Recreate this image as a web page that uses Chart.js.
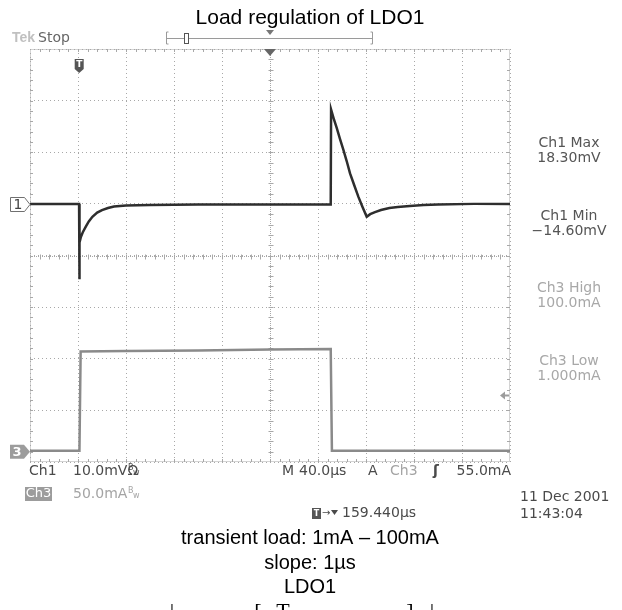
<!DOCTYPE html>
<html>
<head>
<meta charset="utf-8">
<script src="https://cdn.jsdelivr.net/npm/chart.js@4.4.1/dist/chart.umd.min.js"></script>
<style>
  html, body { margin: 0; padding: 0; background: #fff; }
  canvas { display: block; }
</style>
</head>
<body>
<canvas id="scopeChart" width="622" height="610"></canvas>
<script>
// Ch1: LDO出力電圧 (mV)，時間は µs (画面左端 = -40µs, 1div = 40µs)
const ch1Time = [-40, 0.9, 1.1, 1.4, 2.4, 4, 6.5, 9, 12, 16, 20, 25, 30, 40, 60, 100, 150,
                 210.6, 210.9, 213.5, 215.6, 218.3, 221.1, 223.9, 226.7, 230.2, 233.6, 237.1, 240.6,
                 243.5, 247.5, 252.5, 259.5, 266.5, 276.5, 288, 300, 330, 360];
const ch1Volt = [0, 0, -14.6, -7.5, -6.4, -5.5, -4.4, -3.4, -2.5, -1.7, -1.2, -0.8, -0.5, -0.3, -0.2, -0.1, -0.1,
                 -0.1, 18.3, 16.2, 14.7, 12.6, 10.5, 8.3, 5.9, 3.6, 1.4, -0.6, -2.5,
                 -2.0, -1.6, -1.2, -0.8, -0.6, -0.4, -0.2, -0.1, 0, 0];

// Ch3: 負荷電流 (mA)
const ch3Time = [-40, 1.2, 2.2, 40, 100, 160, 210.6, 211.6, 260, 360];
const ch3Curr = [1, 1, 97, 97.5, 98, 99, 99.5, 1, 1, 1];

// トリガ位置とトリガレベル
const trigTime = 1;
const trigLevel = 55;

// 測定値の表示
const measureLabels = ['Ch1 Max', 'Ch1 Min', 'Ch3 High', 'Ch3 Low'];
const measureValues = ['18.30mV', '\u221214.60mV', '100.0mA', '1.000mA'];
const captionLines = ['transient load: 1mA \u2013 100mA', 'slope: 1\u00b5s', 'LDO1'];

const SCOPE_FONT = '"DejaVu Sans", sans-serif';
const dark = '#4a4a4a';
const light = '#a4a4a4';

function text(ctx, s, x, y, color, font, align) {
    ctx.fillStyle = color;
    ctx.font = font;
    ctx.textAlign = align || 'left';
    ctx.textBaseline = 'middle';
    ctx.fillText(s, x, y);
}

/**
 * 目盛りの細かい刻み（枠と中央十字線）を描く
 */
const graticule = {
    id: 'graticule',
    beforeDatasetsDraw(chart) {
        const { ctx, chartArea: a } = chart;
        const dx = (a.right - a.left) / 50;
        const dy = (a.bottom - a.top) / 40;
        const cx = Math.round((a.left + a.right) / 2) + 0.5;
        const cy = Math.round((a.top + a.bottom) / 2) + 0.5;
        ctx.save();
        ctx.strokeStyle = '#a8a8a8';
        ctx.lineWidth = 1;
        ctx.beginPath();
        for (let i = 1; i < 50; i++) {
            const x = Math.round(a.left + i * dx) + 0.5;
            ctx.moveTo(x, a.top); ctx.lineTo(x, a.top + 3);
            ctx.moveTo(x, a.bottom); ctx.lineTo(x, a.bottom - 3);
            ctx.moveTo(x, cy - 2); ctx.lineTo(x, cy + 3);
        }
        for (let j = 1; j < 40; j++) {
            const y = Math.round(a.top + j * dy) + 0.5;
            ctx.moveTo(a.left, y); ctx.lineTo(a.left + 3, y);
            ctx.moveTo(a.right, y); ctx.lineTo(a.right - 3, y);
            ctx.moveTo(cx - 2, y); ctx.lineTo(cx + 3, y);
        }
        ctx.stroke();
        // 枠と中央線は細かい点線
        ctx.setLineDash([1, 1]);
        ctx.beginPath();
        ctx.moveTo(a.left + 0.5, a.top + 0.5); ctx.lineTo(a.right - 0.5, a.top + 0.5);
        ctx.lineTo(a.right - 0.5, a.bottom - 0.5); ctx.lineTo(a.left + 0.5, a.bottom - 0.5);
        ctx.closePath();
        ctx.moveTo(cx, a.top); ctx.lineTo(cx, a.bottom);
        ctx.moveTo(a.left, cy); ctx.lineTo(a.right, cy);
        ctx.stroke();
        ctx.restore();
    }
};

/**
 * チャンネルマーカーと画面上の文字情報を描く
 */
const scopeText = {
    id: 'scopeText',
    afterDraw(chart) {
        const { ctx, chartArea: a, scales } = chart;
        const f14 = '14px ' + SCOPE_FONT;
        ctx.save();

        // タイトル
        text(ctx, 'Load regulation of LDO1', 310, 18, '#000', '21px "Liberation Sans", Arial, sans-serif', 'center');

        // Tek Stop
        text(ctx, 'Tek', 12, 38, '#c0c0c0', 'bold 14px "Liberation Sans", Arial, sans-serif');
        text(ctx, 'Stop', 38, 38, '#666', f14);

        // 水平位置バー
        ctx.strokeStyle = '#9a9a9a';
        ctx.lineWidth = 1;
        ctx.beginPath();
        ctx.moveTo(168.5, 32); ctx.lineTo(166.5, 32); ctx.lineTo(166.5, 44); ctx.lineTo(168.5, 44);
        ctx.moveTo(370.5, 32); ctx.lineTo(372.5, 32); ctx.lineTo(372.5, 44); ctx.lineTo(370.5, 44);
        ctx.moveTo(167, 38.5); ctx.lineTo(372, 38.5);
        ctx.stroke();
        ctx.fillStyle = '#fff';
        ctx.strokeStyle = '#555';
        ctx.fillRect(184, 33, 5, 11);
        ctx.strokeRect(184.5, 33.5, 4, 10);
        ctx.fillStyle = '#777';
        ctx.beginPath();
        ctx.moveTo(266, 30); ctx.lineTo(274, 30); ctx.lineTo(270, 35); ctx.closePath();
        ctx.fill();

        // 中央の位置マーカー
        const cx = (a.left + a.right) / 2;
        ctx.fillStyle = '#666';
        ctx.beginPath();
        ctx.moveTo(cx - 6, a.top); ctx.lineTo(cx + 6, a.top); ctx.lineTo(cx, a.top + 7); ctx.closePath();
        ctx.fill();

        // トリガマーカー T
        const tx = scales.x.getPixelForValue(trigTime);
        ctx.fillStyle = '#555';
        ctx.beginPath();
        ctx.moveTo(tx - 4.5, 59); ctx.lineTo(tx + 4.5, 59); ctx.lineTo(tx + 4.5, 69);
        ctx.lineTo(tx, 73); ctx.lineTo(tx - 4.5, 69); ctx.closePath();
        ctx.fill();
        text(ctx, 'T', tx, 65, '#fff', 'bold 9px ' + SCOPE_FONT, 'center');

        // Ch1 マーカー
        const y1 = Math.round(scales.y.getPixelForValue(0)) + 0.5;
        ctx.fillStyle = '#fff';
        ctx.strokeStyle = '#707070';
        ctx.beginPath();
        ctx.moveTo(10.5, y1 - 7); ctx.lineTo(24.5, y1 - 7); ctx.lineTo(30, y1);
        ctx.lineTo(24.5, y1 + 7); ctx.lineTo(10.5, y1 + 7); ctx.closePath();
        ctx.fill(); ctx.stroke();
        text(ctx, '1', 18, y1 + 1, '#444', f14, 'center');

        // Ch3 マーカー
        const y3 = scales.y3.getPixelForValue(0);
        ctx.fillStyle = '#9c9c9c';
        ctx.beginPath();
        ctx.moveTo(10, y3 - 7); ctx.lineTo(24, y3 - 7); ctx.lineTo(30, y3);
        ctx.lineTo(24, y3 + 7); ctx.lineTo(10, y3 + 7); ctx.closePath();
        ctx.fill();
        text(ctx, '3', 17, y3 + 1, '#fff', 'bold 13px ' + SCOPE_FONT, 'center');

        // トリガレベル矢印
        const yl = Math.round(scales.y3.getPixelForValue(trigLevel)) + 0.5;
        ctx.fillStyle = '#9c9c9c';
        ctx.strokeStyle = '#9c9c9c';
        ctx.lineWidth = 2;
        ctx.beginPath();
        ctx.moveTo(a.right - 10, yl); ctx.lineTo(a.right - 5, yl - 4); ctx.lineTo(a.right - 5, yl + 4); ctx.closePath();
        ctx.fill();
        ctx.beginPath();
        ctx.moveTo(a.right - 6, yl); ctx.lineTo(a.right - 1, yl);
        ctx.stroke();
        ctx.lineWidth = 1;

        // 右側の測定値
        const mx = 569;
        const my = [143, 216, 288, 361];
        measureLabels.forEach((lab, i) => {
            const c = i < 2 ? '#555' : '#a8a8a8';
            text(ctx, lab, mx, my[i], c, f14, 'center');
            text(ctx, measureValues[i], mx, my[i] + 15, c, f14, 'center');
        });

        // 下部の設定表示
        const r1 = 471, r2 = 494;
        text(ctx, 'Ch1', 29, r1, dark, f14);
        text(ctx, '10.0mV\u03a9', 73, r1, dark, f14);
        text(ctx, 'B', 128, r1 - 3, dark, '8px ' + SCOPE_FONT);
        text(ctx, 'w', 133, r1 + 2, dark, '8px ' + SCOPE_FONT);
        text(ctx, 'M', 282, r1, dark, f14);
        text(ctx, '40.0\u00b5s', 299, r1, dark, f14);
        text(ctx, 'A', 368, r1, dark, f14);
        text(ctx, 'Ch3', 390, r1, light, f14);
        text(ctx, '\u0283', 433, r1, dark, 'bold 14px ' + SCOPE_FONT);
        text(ctx, '55.0mA', 511, r1, dark, f14, 'right');

        ctx.fillStyle = '#9c9c9c';
        ctx.fillRect(25, r2 - 7, 27, 14);
        text(ctx, 'Ch3', 38.5, r2, '#fff', '13px ' + SCOPE_FONT, 'center');
        text(ctx, '50.0mA', 73, r2, light, f14);
        text(ctx, 'B', 128, r2 - 3, light, '8px ' + SCOPE_FONT);
        text(ctx, 'w', 133, r2 + 2, light, '8px ' + SCOPE_FONT);

        text(ctx, '11 Dec 2001', 520, 497, dark, f14);
        text(ctx, '11:43:04', 520, 514, dark, f14);

        // トリガ位置表示
        ctx.fillStyle = '#555';
        ctx.fillRect(312, 508, 9, 11);
        text(ctx, 'T', 316.5, 514, '#fff', 'bold 8px ' + SCOPE_FONT, 'center');
        text(ctx, '\u2192', 322, 513, dark, '10px ' + SCOPE_FONT);
        ctx.fillStyle = dark;
        ctx.beginPath();
        ctx.moveTo(331, 510); ctx.lineTo(338, 510); ctx.lineTo(334.5, 515); ctx.closePath();
        ctx.fill();
        text(ctx, '159.440\u00b5s', 342, 513, dark, f14);

        // キャプション
        const capFont = '20px "Liberation Sans", Arial, sans-serif';
        const cy = [538, 563, 587];
        captionLines.forEach((s, i) => text(ctx, s, 310, cy[i], '#000', capFont, 'center'));

        // 下端で切れている行
        ctx.font = '22px "Liberation Serif", serif';
        ctx.fillStyle = '#000';
        ctx.textAlign = 'center';
        ctx.textBaseline = 'top';
        [['|', 172], ['[', 258], ['T', 283], [']', 410], ['|', 432]].forEach(([s, x]) => ctx.fillText(s, x, 601));
        ctx.restore();
    }
};

const ctx = document.getElementById('scopeChart').getContext('2d');

// 点線のグリッド（v4 では grid.borderDash / border.dash の両方を指定しておく）
const gridOpts = { color: '#a8a8a8', lineWidth: 1, drawTicks: false, borderDash: [1, 3] };
const borderOpts = { display: false, dash: [1, 3] };

new Chart(ctx, {
    type: 'line',
    data: {
        datasets: [
            {
                label: 'Ch3',
                data: ch3Time.map((t, i) => ({ x: t, y: ch3Curr[i] })),
                yAxisID: 'y3',
                borderColor: '#8a8a8a',
                borderWidth: 2.5,
                pointRadius: 0,
                tension: 0
            },
            {
                label: 'Ch1',
                data: ch1Time.map((t, i) => ({ x: t, y: ch1Volt[i] })),
                yAxisID: 'y',
                borderColor: '#2e2e2e',
                borderWidth: 2.5,
                pointRadius: 0,
                tension: 0
            }
        ]
    },
    options: {
        responsive: false,
        animation: false,
        layout: { padding: { left: 30, right: 112, top: 49, bottom: 148 } },
        scales: {
            x: {
                type: 'linear', min: -40, max: 360,
                ticks: { display: false, stepSize: 40 },
                grid: gridOpts, border: borderOpts
            },
            y: {
                type: 'linear', min: -50, max: 30,
                ticks: { display: false, stepSize: 10 },
                grid: gridOpts, border: borderOpts
            },
            y3: {
                type: 'linear', display: false, min: -10, max: 390
            }
        },
        plugins: {
            legend: { display: false },
            title: { display: false },
            tooltip: { enabled: false }
        }
    },
    plugins: [graticule, scopeText]
});
</script>
</body>
</html>
